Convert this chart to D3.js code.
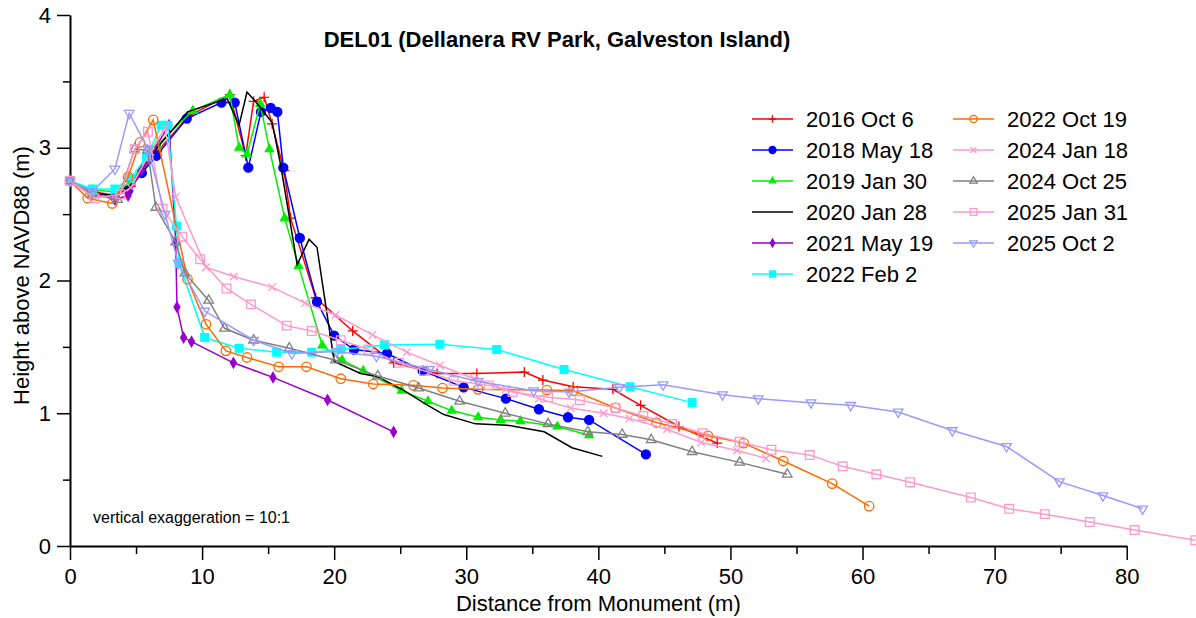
<!DOCTYPE html>
<html>
<head>
<meta charset="utf-8">
<script src="https://cdn.jsdelivr.net/npm/d3@7"></script>
<style>
  body { margin: 0; background: #fff; }
  svg { display: block; font-family: Arial, "Liberation Sans", sans-serif; }
</style>
</head>
<body>
<div id="chart"></div>
<script>
// Survey dates (legend order)
const labels = ["2016 Oct 6", "2018 May 18", "2019 Jan 30", "2020 Jan 28", "2021 May 19", "2022 Feb 2",
                "2022 Oct 19", "2024 Jan 18", "2024 Oct 25", "2025 Jan 31", "2025 Oct 2"];

// [distance from monument (m), height above NAVD88 (m)]
const oct2016 = [[0,2.75],[1.7,2.67],[3.4,2.64],[4.6,2.71],[6.6,2.97],[9.0,3.24],[12.1,3.40],[13.3,2.94],[13.9,3.35],
  [14.7,3.38],[15.3,3.18],[16.2,2.83],[16.7,2.47],[18.6,1.87],[21.4,1.62],[24.5,1.38],[27.8,1.30],[30.8,1.30],
  [34.4,1.31],[35.8,1.25],[38.1,1.20],[41.1,1.18],[43.2,1.06],[46.1,0.90],[49.0,0.775]];
const may2018 = [[0,2.75],[1.7,2.66],[3.4,2.63],[4.4,2.68],[5.44,2.81],[6.55,2.94],[8.84,3.22],[11.47,3.34],[12.47,3.34],
  [13.5,2.85],[14.46,3.27],[15.2,3.30],[15.7,3.27],[16.15,2.85],[17.4,2.32],[18.7,1.84],[20.0,1.585],[21.5,1.48],
  [24.0,1.45],[26.7,1.32],[29.8,1.195],[33.0,1.11],[35.5,1.03],[37.7,0.97],[39.3,0.95],[43.6,0.69]];
const jan2019 = [[0,2.75],[1.7,2.68],[3.4,2.67],[4.6,2.74],[6.6,3.02],[9.3,3.28],[12.1,3.40],[12.8,3.00],[13.4,2.95],
  [14.4,3.33],[15.1,2.99],[16.25,2.47],[17.3,2.11],[19.1,1.51],[20.6,1.40],[22.2,1.32],[25.1,1.17],[27.1,1.09],
  [28.9,1.02],[30.9,0.97],[32.6,0.95],[34.1,0.94],[36.9,0.90],[39.3,0.835]];
const jan2020 = [[0,2.75],[1.7,2.66],[3.4,2.64],[4.6,2.72],[6.6,3.00],[8.9,3.27],[11.9,3.37],[12.8,3.17],[13.4,3.42],
  [14.2,3.33],[15.3,3.19],[15.95,2.87],[17.2,2.12],[18.1,2.31],[18.7,2.25],[20.0,1.39],[22.0,1.30],[23.3,1.275],
  [25.3,1.17],[26.9,1.07],[28.3,0.99],[30.7,0.92],[33.1,0.91],[35.9,0.86],[38.0,0.74],[40.3,0.675]];
const may2021 = [[0,2.75],[1.7,2.66],[3.4,2.61],[4.4,2.64],[5.4,2.83],[7.5,3.17],[8.0,2.29],[8.1,1.80],[8.6,1.57],
  [9.2,1.54],[12.37,1.38],[15.37,1.27],[19.5,1.10],[24.5,0.86]];
const feb2022 = [[0,2.75],[1.7,2.69],[3.4,2.69],[4.6,2.77],[5.8,2.93],[6.9,3.17],[7.4,3.17],[8.06,2.41],[8.26,2.13],
  [10.2,1.57],[12.8,1.49],[15.65,1.46],[18.3,1.46],[20.5,1.48],[23.8,1.515],[28.0,1.52],[32.3,1.48],[37.4,1.33],
  [42.4,1.20],[47.1,1.08]];
const oct2022 = [[0,2.75],[1.34,2.62],[3.2,2.58],[4.4,2.78],[5.3,3.04],[6.3,3.21],[8.9,2.01],[10.3,1.67],[11.8,1.47],
  [13.4,1.42],[15.8,1.35],[17.9,1.35],[20.5,1.26],[22.95,1.22],[26.0,1.21],[28.2,1.19],[30.9,1.18],[36.1,1.175],
  [38.1,1.17],[41.3,1.04],[44.4,0.93],[48.3,0.83],[51.0,0.775],[54.0,0.64],[57.7,0.47],[60.5,0.30]];
const jan2024 = [[0,2.75],[1.7,2.65],[3.4,2.62],[4.6,2.70],[6.1,2.97],[7.2,3.15],[8.0,2.63],[10.3,2.10],[12.4,2.03],
  [15.3,1.95],[17.8,1.83],[20.1,1.74],[22.9,1.59],[25.5,1.46],[28.0,1.36],[30.6,1.26],[33.0,1.18],[35.5,1.11],
  [37.9,1.04],[40.4,1.00],[42.35,0.96],[45.2,0.88],[47.8,0.78],[50.5,0.72],[52.7,0.66]];
const oct2024 = [[0,2.75],[1.7,2.65],[3.6,2.61],[4.9,2.99],[5.87,2.98],[6.5,2.55],[8.0,2.29],[8.7,2.055],[10.5,1.85],
  [11.7,1.64],[13.9,1.55],[16.6,1.49],[20.1,1.40],[23.3,1.28],[26.4,1.19],[29.5,1.09],[32.95,1.00],[36.2,0.92],
  [39.2,0.86],[41.8,0.84],[44.0,0.80],[47.1,0.71],[50.7,0.63],[54.3,0.54]];
const jan2025 = [[0,2.75],[1.84,2.62],[3.8,2.65],[4.9,2.99],[5.9,3.12],[7.0,2.54],[8.5,2.33],[9.85,2.16],[11.85,1.94],
  [13.7,1.82],[16.4,1.66],[18.3,1.62],[20.5,1.55],[22.6,1.48],[24.9,1.38],[26.8,1.32],[29.05,1.245],[31.7,1.21],
  [33.5,1.16],[36.2,1.12],[38.6,1.10],[41.3,1.04],[43.4,0.98],[45.6,0.92],[47.9,0.85],[50.7,0.785],[53.1,0.725],
  [56.0,0.685],[58.5,0.60],[61.05,0.54],[63.6,0.48],[68.2,0.365],[71.1,0.28],[73.8,0.24],[77.2,0.18],[80.6,0.12],
  [85.2,0.043]];
const oct2025 = [[0,2.75],[1.7,2.67],[3.4,2.84],[4.48,3.26],[5.9,2.99],[7.2,2.50],[8.2,2.13],[10.2,1.77],[13.9,1.55],
  [16.8,1.45],[20.2,1.465],[23.2,1.43],[27.2,1.33],[30.9,1.24],[35.1,1.17],[37.8,1.16],[41.6,1.195],[44.9,1.215],
  [49.4,1.14],[52.1,1.11],[56.1,1.08],[59.1,1.06],[62.7,1.01],[66.8,0.87],[70.9,0.75],[74.9,0.485],[78.2,0.38],
  [81.2,0.28]];

const surveys = [oct2016, may2018, jan2019, jan2020, may2021, feb2022, oct2022, jan2024, oct2024, jan2025, oct2025];

const xTicks = [0, 10, 20, 30, 40, 50, 60, 70, 80];
const yTicks = [0, 1, 2, 3, 4];

// styling
const colors = ["#ff0000", "#0000ff", "#00ee00", "#000000", "#9900cc", "#00ffff",
                "#ff6a00", "#ff99cc", "#808080", "#ff99cc", "#9999ff"];
const markers = ["plus", "circle", "triangle", "none", "diamond", "square",
                 "ocircle", "cross", "otriangle", "osquare", "odown"];

const width = 1196, height = 618;

const x = d3.scaleLinear().domain([0, 80]).range([70, 1126.7]);
const y = d3.scaleLinear().domain([0, 4]).range([546, 15]);

const svg = d3.select("#chart").append("svg")
    .attr("width", width)
    .attr("height", height);

// thin-stroke "+" and "x" markers
const symbolPlus = {
    draw(ctx, size) {
        const r = Math.sqrt(size) / 2;
        ctx.moveTo(-r, 0); ctx.lineTo(r, 0);
        ctx.moveTo(0, -r); ctx.lineTo(0, r);
    }
};
const symbolX = {
    draw(ctx, size) {
        const r = Math.sqrt(size) / 2 * 0.8;
        ctx.moveTo(-r, -r); ctx.lineTo(r, r);
        ctx.moveTo(-r, r); ctx.lineTo(r, -r);
    }
};

// type, area, filled, rotate
const markerDefs = {
    plus:      [symbolPlus, 100, false, 0],
    circle:    [d3.symbolCircle, 64, true, 0],
    triangle:  [d3.symbolTriangle, 30, true, 0],
    diamond:   [d3.symbolDiamond, 30, true, 0],
    square:    [d3.symbolSquare, 60, true, 0],
    ocircle:   [d3.symbolCircle, 70, false, 0],
    cross:     [symbolX, 90, false, 0],
    otriangle: [d3.symbolTriangle, 40, false, 0],
    osquare:   [d3.symbolSquare, 75, false, 0],
    odown:     [d3.symbolTriangle, 40, false, 180]
};

function drawMarker(g, kind, color, px, py, scale) {
    if (kind === "none") return;
    const [type, size, filled, rot] = markerDefs[kind];
    g.append("path")
        .attr("d", d3.symbol().type(type).size(size * scale)())
        .attr("transform", `translate(${px},${py}) rotate(${rot})`)
        .attr("fill", filled ? color : "none")
        .attr("stroke", color)
        .attr("stroke-width", 1.3);
}

// axes
svg.append("g")
    .attr("transform", `translate(0,${y(0)})`)
    .call(d3.axisBottom(x).tickValues(xTicks).tickSize(14).tickSizeOuter(0).tickPadding(8).tickFormat(d3.format("d")));
svg.append("g")
    .attr("transform", `translate(0,${y(0)})`)
    .call(d3.axisBottom(x).tickValues(d3.range(5, 80, 10)).tickSize(8).tickFormat(""))
    .call(g => g.select(".domain").remove());

svg.append("g")
    .attr("transform", `translate(${x(0)},0)`)
    .call(d3.axisLeft(y).tickValues(yTicks).tickSize(13).tickSizeOuter(0).tickPadding(6).tickFormat(d3.format("d")));
svg.append("g")
    .attr("transform", `translate(${x(0)},0)`)
    .call(d3.axisLeft(y).tickValues([0.5, 1.5, 2.5, 3.5]).tickSize(7).tickFormat(""))
    .call(g => g.select(".domain").remove());

svg.selectAll(".domain").attr("stroke", "#000").attr("stroke-width", 2);
svg.selectAll(".tick line").attr("stroke", "#000").attr("stroke-width", 1.5);
svg.selectAll(".tick text")
    .attr("fill", "#000")
    .style("font-size", "22px")
    .style("font-family", "Arial, 'Liberation Sans', sans-serif");

// axis titles
svg.append("text")
    .attr("x", (x(0) + x(80)) / 2)
    .attr("y", 611)
    .attr("text-anchor", "middle")
    .style("font-size", "22px")
    .text("Distance from Monument (m)");

svg.append("text")
    .attr("transform", `translate(29,${(y(0) + y(4)) / 2 - 5}) rotate(-90)`)
    .attr("text-anchor", "middle")
    .style("font-size", "22px")
    .text("Height above NAVD88 (m)");

svg.append("text")
    .attr("x", 557)
    .attr("y", 47)
    .attr("text-anchor", "middle")
    .style("font-size", "22px")
    .style("font-weight", "bold")
    .text("DEL01 (Dellanera RV Park, Galveston Island)");

svg.append("text")
    .attr("x", 93)
    .attr("y", 523)
    .style("font-size", "16px")
    .text("vertical exaggeration = 10:1");

// profiles
const line = d3.line().x(d => x(d[0])).y(d => y(d[1]));
const plot = svg.append("g");

surveys.forEach((pts, i) => {
    const g = plot.append("g");
    g.append("path")
        .attr("d", line(pts))
        .attr("fill", "none")
        .attr("stroke", colors[i])
        .attr("stroke-width", 1.5);
    pts.forEach(p => drawMarker(g, markers[i], colors[i], x(p[0]), y(p[1]), 1));
});

// legend
const legend = svg.append("g");
labels.forEach((name, i) => {
    const col = i < 6 ? 0 : 1;
    const row = i < 6 ? i : i - 6;
    const lx = col === 0 ? 752 : 953;
    const ly = 119 + row * 31;
    const g = legend.append("g");
    g.append("line")
        .attr("x1", lx).attr("x2", lx + 41)
        .attr("y1", ly).attr("y2", ly)
        .attr("stroke", colors[i])
        .attr("stroke-width", 1.5);
    drawMarker(g, markers[i], colors[i], lx + 20.5, ly, 0.6);
    g.append("text")
        .attr("x", lx + 54)
        .attr("y", ly)
        .attr("dy", "0.36em")
        .style("font-size", "22px")
        .text(name);
});
</script>
</body>
</html>
